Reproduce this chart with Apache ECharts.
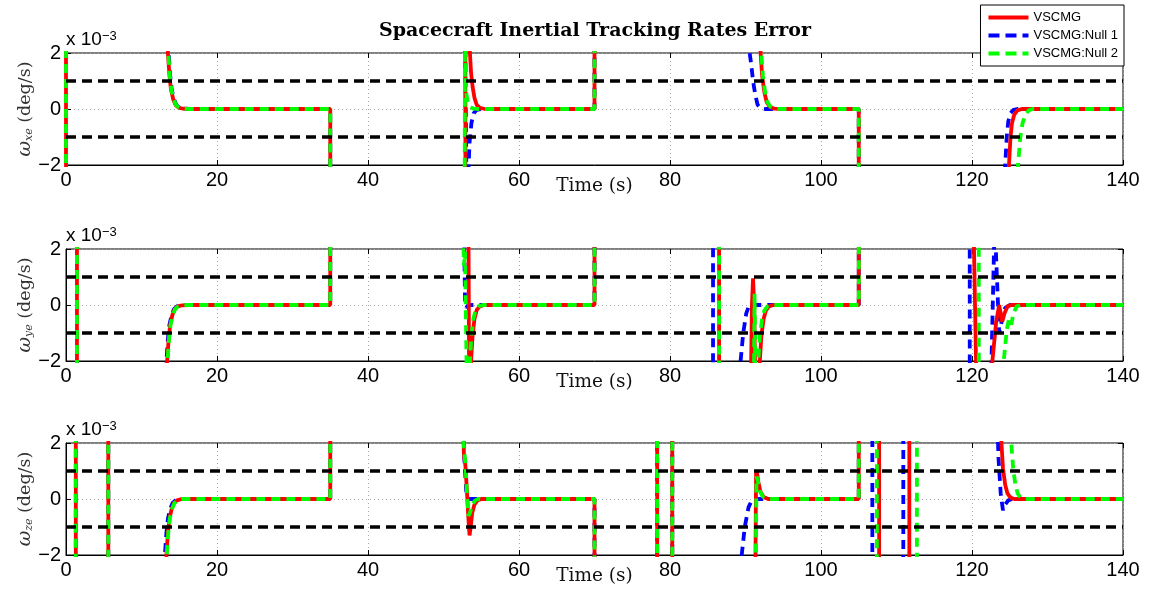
<!DOCTYPE html>
<html>
<head>
<meta charset="utf-8">
<script src="https://cdn.jsdelivr.net/npm/echarts@6/dist/echarts.min.js"></script>
<style>
  html, body { margin: 0; padding: 0; background: #fff; }
  #chart { width: 1155px; height: 611px; }
</style>
</head>
<body>
<div id="chart"></div>
<script>
// Angular-rate tracking error (units of 1e-3 deg/s) versus time (s).
// Values beyond +/-2 are off-scale and get clipped by the axes.

// ---- omega_xe ----
const xeVscmg = [[0,-3],[0,3],[13.35,3],[13.5,2],[13.7,1.2],[13.9,0.7],[14.2,0.35],[14.5,0.15],[14.9,0.05],[15.5,0.01],[16.5,0],[35,0],[35,-3],[52.9,-3],[52.9,3],[53.4,3],[53.5,2],[53.65,1.3],[53.85,0.8],[54.1,0.4],[54.4,0.15],[54.8,0.04],[55.5,0],[70,0],[70,3],[91.8,3],[92.0,2],[92.2,1.2],[92.5,0.6],[92.8,0.25],[93.2,0.08],[93.8,0.01],[95,0],[105,0],[105,-3],[124.8,-3],[124.9,-2],[125.1,-1],[125.3,-0.5],[125.6,-0.2],[126,-0.05],[126.6,0],[140,0]];
const xeNull1 = [[0,-3],[0,3],[13.45,3],[13.6,2],[13.8,1.2],[14.0,0.7],[14.3,0.35],[14.6,0.15],[15,0.05],[15.6,0.01],[16.5,0],[35,0],[35,-3],[52.85,-3],[52.85,3],[53.0,3],[53.05,-3],[53.3,-2.2],[53.45,-1.2],[53.7,-0.5],[54.0,-0.15],[54.4,-0.03],[55,0],[70,0],[70,3],[90.5,3],[90.55,2],[90.8,1.5],[91.0,1],[91.3,0.5],[91.6,0.15],[92,0.03],[92.6,0],[105,0],[105,-3],[124.3,-3],[124.4,-2],[124.6,-1],[124.8,-0.45],[125.1,-0.15],[125.5,-0.03],[126,0],[140,0]];
const xeNull2 = [[0,-3],[0,3],[13.4,3],[13.55,2],[13.75,1.2],[13.95,0.7],[14.25,0.35],[14.55,0.15],[14.95,0.05],[15.5,0.01],[16.5,0],[35,0],[35,-3],[52.8,-3],[52.85,3],[53.0,0.6],[53.2,0.25],[53.5,0.08],[54,0.01],[54.5,0],[70,0],[70,3],[92.0,3],[92.1,2],[92.3,1.2],[92.6,0.6],[92.9,0.25],[93.3,0.08],[93.9,0.01],[95,0],[105,0],[105,-3],[126.0,-3],[126.1,-2],[126.4,-1],[126.7,-0.5],[127.1,-0.2],[127.5,-0.05],[128,0],[140,0]];

// ---- omega_ye ----
const yeVscmg = [[0,3],[1.45,3],[1.45,-3],[13.3,-3],[13.4,-2],[13.6,-1.2],[13.8,-0.7],[14.1,-0.35],[14.4,-0.15],[14.8,-0.05],[15.4,-0.01],[16.3,0],[35,0],[35,3],[53.3,3],[53.4,-3],[53.6,-3],[53.65,-2],[53.85,-1.1],[54.1,-0.5],[54.4,-0.18],[54.8,-0.05],[55.4,0],[70,0],[70,3],[86.5,3],[86.5,-3],[90.7,-3],[90.85,0],[91.0,0.95],[91.15,0],[91.3,-3],[91.8,-3],[91.9,-2],[92.1,-1.1],[92.4,-0.5],[92.7,-0.2],[93.1,-0.05],[93.7,0],[105,0],[105,3],[120.2,3],[120.6,-3],[122.5,-3],[122.7,-2],[123.2,-0.6],[123.6,0],[124.0,-0.6],[124.3,-0.3],[124.7,-0.05],[125.2,0],[140,0]];
const yeNull1 = [[0,3],[1.45,3],[1.45,-3],[13.2,-3],[13.3,-2],[13.5,-1.2],[13.7,-0.7],[14.0,-0.35],[14.3,-0.15],[14.7,-0.05],[15.3,0],[35,0],[35,3],[52.7,3],[52.85,0.2],[53.0,-0.1],[53.3,0],[70,0],[70,3],[85.7,3],[85.7,-3],[89.2,-3],[89.35,-2],[89.7,-1],[90.1,-0.3],[90.5,0],[105,0],[105,3],[119.7,3],[119.7,-3],[122.5,-3],[123.0,3],[123.2,3],[123.6,-1],[124.0,-0.5],[124.4,-0.1],[125,0],[140,0]];
const yeNull2 = [[0,3],[1.45,3],[1.45,-3],[13.35,-3],[13.45,-2],[13.65,-1.2],[13.85,-0.7],[14.15,-0.35],[14.45,-0.15],[14.85,-0.05],[15.5,0],[35,0],[35,3],[52.6,3],[52.7,1.4],[52.85,1.9],[53.1,-3],[53.45,-3],[53.5,-2],[53.7,-1.1],[53.95,-0.5],[54.25,-0.18],[54.6,-0.05],[55.2,0],[70,0],[70,3],[86.5,3],[86.5,-3],[91.1,-3],[91.2,0.4],[91.35,-3],[91.6,-3],[91.7,-2],[91.9,-1.1],[92.2,-0.5],[92.5,-0.2],[92.9,-0.05],[93.5,0],[105,0],[105,3],[120.9,3],[120.9,-3],[124.0,-3],[124.2,-2],[124.6,-0.9],[124.9,-0.5],[125.2,-0.7],[125.5,-0.3],[125.9,-0.05],[126.5,0],[140,0]];

// ---- omega_ze ----
const zeVscmg = [[0,-3],[1.3,-3],[1.3,3],[5.6,3],[5.6,-3],[13.2,-3],[13.3,-2],[13.5,-1.2],[13.7,-0.7],[14.0,-0.35],[14.3,-0.15],[14.7,-0.05],[15.3,0],[35,0],[35,3],[52.6,3],[52.7,1.6],[52.9,1.2],[53.1,0.3],[53.3,-0.7],[53.45,-1.3],[53.6,-1.0],[53.8,-0.5],[54.1,-0.2],[54.5,-0.05],[55,0],[70,0],[70,-3],[78.3,-3],[78.3,3],[80.3,3],[80.3,-3],[91.3,-3],[91.4,0.9],[91.5,1.0],[91.7,0.6],[92.0,0.25],[92.4,0.07],[93,0],[105,0],[105,3],[107.7,3],[107.7,-3],[111.7,-3],[111.7,3],[123.8,3],[123.9,2],[124.1,1.1],[124.4,0.5],[124.7,0.2],[125.1,0.05],[125.6,0],[140,0]];
const zeNull1 = [[0,-3],[1.3,-3],[1.3,3],[5.6,3],[5.6,-3],[13.0,-3],[13.1,-2],[13.3,-1.2],[13.5,-0.7],[13.8,-0.35],[14.1,-0.15],[14.5,-0.05],[15.1,0],[35,0],[35,3],[52.6,3],[52.75,1.5],[53.0,0.3],[53.3,0],[70,0],[70,-3],[78.3,-3],[78.3,3],[80.3,3],[80.3,-3],[89.4,-3],[89.5,-2],[89.9,-1],[90.4,-0.3],[90.9,0],[105,0],[105,3],[106.8,3],[106.8,-3],[110.9,-3],[110.9,3],[123.35,3],[123.5,1.5],[123.8,0.2],[124.1,-0.4],[124.4,-0.2],[124.8,-0.05],[125.3,0],[140,0]];
const zeNull2 = [[0,-3],[1.3,-3],[1.3,3],[5.6,3],[5.6,-3],[13.25,-3],[13.35,-2],[13.55,-1.2],[13.75,-0.7],[14.05,-0.35],[14.35,-0.15],[14.75,-0.05],[15.4,0],[35,0],[35,3],[52.6,3],[52.7,1.8],[52.9,1.3],[53.1,0.2],[53.3,-0.6],[53.5,-0.5],[53.8,-0.2],[54.2,-0.05],[54.6,0],[70,0],[70,-3],[78.3,-3],[78.3,3],[80.3,3],[80.3,-3],[91.35,-3],[91.45,0.8],[91.6,0.7],[91.9,0.3],[92.3,0.08],[93,0],[105,0],[105,3],[107.4,3],[107.4,-3],[112.7,-3],[112.7,3],[125.1,3],[125.2,2],[125.45,1.1],[125.75,0.5],[126.05,0.2],[126.4,0.05],[126.9,0],[140,0]];

// Tolerance band drawn as black dashed lines
const bounds = [1, -1];

const seriesNames = ['VSCMG', 'VSCMG:Null 1', 'VSCMG:Null 2'];
const panelSubs = ['xe', 'ye', 'ze'];
const panelData = [
  [xeVscmg, xeNull1, xeNull2],
  [yeVscmg, yeNull1, yeNull2],
  [zeVscmg, zeNull1, zeNull2]
];

// Layout
const gridTops = [53, 249, 443];
const gridHeight = 112;
const gridLeft = 66, gridRight = 32;
const tickFont = 'Liberation Sans, Arial, Helvetica, sans-serif';
const serifFont = 'DejaVu Serif, serif';

const styles = {
  'VSCMG':        { color: '#ff0000', width: 3.8, type: 'solid' },
  'VSCMG:Null 1': { color: '#0000ff', width: 3.8, type: [9, 6] },
  'VSCMG:Null 2': { color: '#00ff00', width: 3.8, type: [9, 6] }
};
// Legend glyphs: a solid bar, and a bar broken into dashes
const solidIcon = 'path://M0,0h40v4h-40z';
const dashIcon = 'path://M0,0h11v4h-11zM17,0h11v4h-11zM34,0h6v4h-6z';
const drawOrder = [1, 0, 2]; // Null 1 underneath, then VSCMG, then Null 2

const minusFmt = v => (v < 0 ? '\u2212' + (-v) : String(v));

const grid = [], xAxis = [], yAxis = [], series = [], graphic = [];

gridTops.forEach((top, i) => {
  grid.push({
    left: gridLeft, right: gridRight, top: top, height: gridHeight,
    show: true, borderColor: '#000', borderWidth: 1, backgroundColor: '#fff'
  });
  // bottom x axis with labels and dotted grid
  xAxis.push({
    type: 'value', gridIndex: i, min: 0, max: 140, interval: 20,
    axisLine: { show: true, onZero: false, lineStyle: { color: '#000', width: 1 } },
    axisTick: { show: true, inside: true, length: 5, lineStyle: { color: '#000' } },
    axisLabel: { color: '#000', fontSize: 20, fontFamily: tickFont, margin: 5 },
    splitLine: { show: true, lineStyle: { color: '#aaa', type: [1, 3], width: 1 } },
    name: 'Time (s)', nameLocation: 'middle', nameGap: 12, nameMoveOverlap: false,
    nameTextStyle: { color: '#111', fontSize: 18.5, fontFamily: serifFont }
  });
  // top x axis: inward ticks only
  xAxis.push({
    type: 'value', gridIndex: i, position: 'top', min: 0, max: 140, interval: 20,
    axisLine: { show: false, onZero: false },
    axisTick: { show: true, inside: true, length: 5, lineStyle: { color: '#000' } },
    axisLabel: { show: false }, splitLine: { show: false }
  });
  // left y axis
  yAxis.push({
    type: 'value', gridIndex: i, min: -2, max: 2, interval: 2,
    axisLine: { show: true, onZero: false, lineStyle: { color: '#000', width: 1 } },
    axisTick: { show: true, inside: true, length: 5, lineStyle: { color: '#000' } },
    axisLabel: { color: '#000', fontSize: 20, fontFamily: tickFont, margin: 5, formatter: minusFmt },
    splitLine: { show: true, lineStyle: { color: '#aaa', type: [1, 3], width: 1 } },
    name: '{w|\u03c9}{s|' + panelSubs[i] + '}{n| (deg/s)}',
    nameLocation: 'middle', nameRotate: 90, nameGap: 31, nameMoveOverlap: false,
    nameTextStyle: {
      color: '#333', fontFamily: serifFont, fontSize: 17,
      rich: {
        w: { fontFamily: serifFont, fontStyle: 'italic', fontSize: 19, color: '#333' },
        s: { fontFamily: serifFont, fontStyle: 'italic', fontSize: 11, color: '#333', verticalAlign: 'bottom', padding: [9, 0, 0, 0] },
        n: { fontFamily: serifFont, fontSize: 17.5, color: '#333' }
      }
    }
  });
  // right y axis: inward ticks only
  yAxis.push({
    type: 'value', gridIndex: i, position: 'right', min: -2, max: 2, interval: 2,
    axisLine: { show: false, onZero: false },
    axisTick: { show: true, inside: true, length: 5, lineStyle: { color: '#000' } },
    axisLabel: { show: false }, splitLine: { show: false }
  });

  drawOrder.forEach(k => {
    const name = seriesNames[k];
    const st = styles[name];
    series.push({
      name: name, type: 'line', xAxisIndex: 2 * i, yAxisIndex: 2 * i,
      data: panelData[i][k], symbol: 'none', showSymbol: false,
      clip: true, animation: false,
      lineStyle: { color: st.color, width: st.width, type: st.type },
      itemStyle: { color: st.color },
      z: 3
    });
  });

  bounds.forEach(b => {
    series.push({
      type: 'line', xAxisIndex: 2 * i, yAxisIndex: 2 * i,
      data: [[0, b], [140, b]], symbol: 'none', silent: true, animation: false,
      lineStyle: { color: '#000', width: 3.5, type: [10, 6] },
      z: 4
    });
  });

  // exponent marker above each y axis
  graphic.push({
    type: 'text', left: gridLeft, top: top - 23,
    style: {
      text: '{a|x 10}{b|\u22123}',
      rich: {
        a: { fontSize: 19, fontFamily: tickFont, fill: '#000', verticalAlign: 'bottom' },
        b: { fontSize: 13, fontFamily: tickFont, fill: '#000', verticalAlign: 'top' }
      }
    }
  });
});

graphic.push({
  type: 'text', x: 595, y: 31,
  style: {
    text: 'Spacecraft Inertial Tracking Rates Error',
    font: 'bold 19px ' + serifFont, fill: '#000',
    textAlign: 'center', textVerticalAlign: 'middle'
  }
});

const chart = echarts.init(document.getElementById('chart'), null, { renderer: 'canvas' });
chart.setOption({
  animation: false,
  backgroundColor: '#fff',
  grid: grid,
  xAxis: xAxis,
  yAxis: yAxis,
  legend: {
    data: [
      { name: seriesNames[0], icon: solidIcon, itemStyle: { color: styles[seriesNames[0]].color } },
      { name: seriesNames[1], icon: dashIcon, itemStyle: { color: styles[seriesNames[1]].color } },
      { name: seriesNames[2], icon: dashIcon, itemStyle: { color: styles[seriesNames[2]].color } }
    ],
    orient: 'vertical', right: 31, top: 5,
    itemWidth: 40, itemHeight: 13, itemGap: 5, padding: [6, 6, 6, 8],
    backgroundColor: '#fff', borderColor: '#000', borderWidth: 1, borderRadius: 0,
    textStyle: { color: '#000', fontSize: 13, fontFamily: tickFont },
    selectedMode: false, z: 10
  },
  graphic: graphic,
  series: series
});
</script>
</body>
</html>
